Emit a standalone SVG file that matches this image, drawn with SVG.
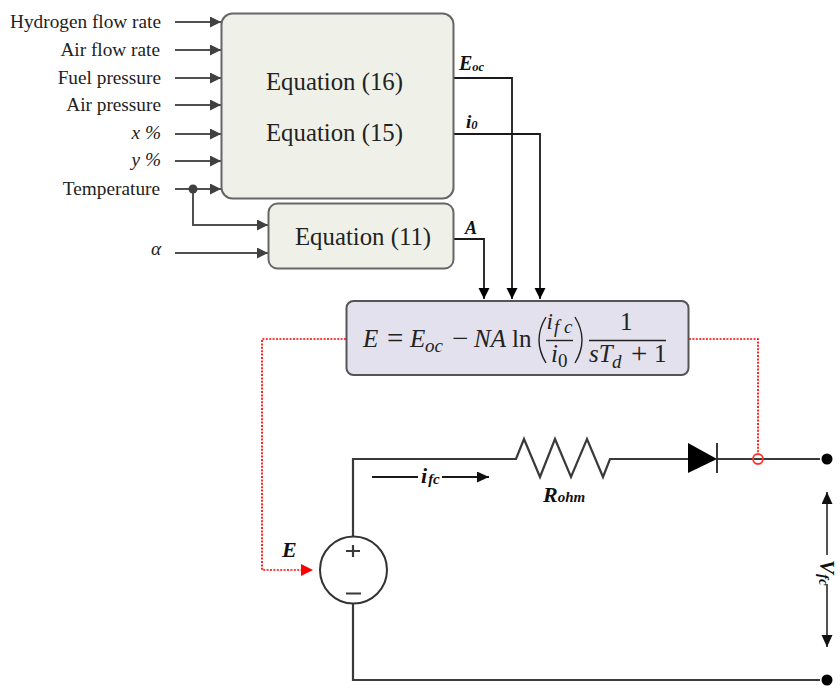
<svg xmlns="http://www.w3.org/2000/svg" width="840" height="695" viewBox="0 0 840 695">
<defs>
<marker id="ag" markerUnits="userSpaceOnUse" markerWidth="13" markerHeight="14" refX="11" refY="5.500" orient="auto"><path d="M0 0L11 5.500L0 11Z" fill="#404040"/></marker>
<marker id="ak" markerUnits="userSpaceOnUse" markerWidth="13" markerHeight="13" refX="11" refY="5.500" orient="auto"><path d="M0 0L11 5.500L0 11Z" fill="#000"/></marker>
<marker id="as" markerUnits="userSpaceOnUse" markerWidth="13" markerHeight="13" refX="12" refY="5.500" orient="auto"><path d="M0 0L12 5.500L0 11Z" fill="#111"/></marker>
</defs>
<style>
text{font-family:"Liberation Serif","Times New Roman",serif;fill:#222}
.l{font-size:19.300px;text-anchor:end}
.i{font-style:italic}
.b{font-weight:bold;font-style:italic;fill:#111}
.eq{font-size:24.800px;text-anchor:middle}
.m{font-size:25px;fill:#222}
.mi{font-size:25px;fill:#222;font-style:italic}
.s{font-size:19px;fill:#222;font-style:italic}
.o{font-size:29px;fill:#222}
.g{fill:none;stroke:#505050;stroke-width:2}
.k{fill:none;stroke:#1a1a1a;stroke-width:1.800}
.w{fill:none;stroke:#3a3a3a;stroke-width:2.200}
.r{fill:none;stroke:#f00;stroke-width:1.700;stroke-dasharray:2 1.400}
.p{fill:none;stroke:#222;stroke-width:1.400}
</style>
<g id="connectors">
<path class="g" marker-end="url(#ag)" d="M175 22H221"/>
<path class="g" marker-end="url(#ag)" d="M175 50H221"/>
<path class="g" marker-end="url(#ag)" d="M175 78H221"/>
<path class="g" marker-end="url(#ag)" d="M175 105H221"/>
<path class="g" marker-end="url(#ag)" d="M175 134H221"/>
<path class="g" marker-end="url(#ag)" d="M175 161H221"/>
<path class="g" marker-end="url(#ag)" d="M175 189H221"/>
<path class="g" marker-end="url(#ag)" d="M193 189V225H268"/>
<path class="g" marker-end="url(#ag)" d="M175 253H268"/>
<circle cx="193" cy="189" r="4.500" fill="#404040"/>
<path class="k" marker-end="url(#ak)" d="M453 78H512V299"/>
<path class="k" marker-end="url(#ak)" d="M453 134H540V299"/>
<path class="k" marker-end="url(#ak)" d="M453 239H484V299"/>
<path class="r" d="M346 339H262V570H302"/>
<path d="M301 564L313 570L301 576Z" fill="#f00"/>
<path class="r" d="M689 339H758V453"/>
<path class="w" d="M353 536V459H516L524 439L540 477L555 439L571 477L587 439L603 477L610 459H688"/>
<path class="w" d="M717 459H820"/>
<path class="w" d="M353 604V680H820"/>
<path class="k" d="M372 477H418"/>
<path class="k" marker-end="url(#as)" d="M442 477H489"/>
<path class="k" style="stroke-width:1.500" marker-end="url(#as)" d="M827 555V492"/>
<path class="k" style="stroke-width:1.500" marker-end="url(#as)" d="M827 584V647"/>
</g>
<g id="node-eq1615"><rect x="221.500" y="13.500" width="232" height="185" rx="11" fill="#eff1e9" stroke="#666" stroke-width="2"/><text class="eq" x="334.500" y="90">Equation (16)</text><text class="eq" x="334.500" y="141">Equation (15)</text></g>
<g id="node-eq11"><rect x="268.500" y="203.500" width="185" height="65" rx="9" fill="#eff1e9" stroke="#666" stroke-width="2"/><text class="eq" x="363" y="245">Equation (11)</text></g>
<g id="node-formula"><rect x="346.500" y="301" width="342" height="74" rx="7" fill="#e3e1ee" stroke="#555" stroke-width="2"/>
<text class="mi" x="363" y="347">E</text><text class="o" x="387" y="348">=</text>
<text class="mi" x="410" y="347">E</text><text class="s" x="425" y="352">oc</text>
<text class="o" x="452" y="348">−</text><text class="mi" x="474" y="347">NA</text><text class="m" x="512" y="347">ln</text>
<path class="p" d="M546 317Q532 340 546 363" stroke-width="1.600"/>
<text class="mi" x="546.500" y="329" style="font-size:23px">i</text><text class="s" x="554" y="333">f c</text>
<path class="p" d="M546 340.500H573"/>
<text class="mi" x="551" y="362">i</text><text class="m" x="558" y="367" style="font-size:19px">0</text>
<path class="p" d="M575 317Q589 340 575 363" stroke-width="1.600"/>
<text class="m" x="620" y="330">1</text>
<path class="p" d="M589 340.500H666"/>
<text class="mi" x="589" y="362">sT</text><text class="s" x="612" y="368">d</text>
<text class="o" x="631" y="363">+</text><text class="m" x="654" y="362">1</text></g>
<g id="labels">
<text class="l" x="161" y="28">Hydrogen flow rate</text>
<text class="l" x="160" y="56">Air flow rate</text>
<text class="l" x="161" y="84">Fuel pressure</text>
<text class="l" x="161" y="111">Air pressure</text>
<text class="l i" x="161" y="139">x %</text>
<text class="l i" x="161" y="166">y %</text>
<text class="l" x="160" y="195">Temperature</text>
<text class="l i" x="161" y="255">α</text>
<text class="b" x="459" y="70" font-size="20">E<tspan font-size="12.500" dy="1">oc</tspan></text>
<text class="b" x="466" y="128" font-size="19">i<tspan font-size="12.500" dy="1">0</tspan></text>
<text class="b" x="465" y="234" font-size="18">A</text>
<text class="b" x="282" y="557" font-size="22">E</text>
<text class="b" x="421" y="483" font-size="22">i<tspan font-size="15" dy="1" dx="1">fc</tspan></text>
<text class="b" x="543" y="502" font-size="22">R<tspan font-size="15">ohm</tspan></text>
<text class="b" transform="translate(820 560) rotate(90)" font-size="21">V<tspan font-size="15" dy="1">fc</tspan></text>
</g>
<g id="source"><circle cx="353.500" cy="570" r="33.500" fill="#fff" stroke="#333" stroke-width="2"/><path class="w" d="M353 545V557M346 551H360M346 593.500H361"/></g>
<g id="diode"><path d="M688 443L717 459L688 473Z" fill="#000"/><path d="M717 443V473" stroke="#222" stroke-width="1.800"/></g>
<circle id="tap" cx="758" cy="459" r="5" fill="none" stroke="#f33" stroke-width="1.800"/>
<circle id="t1" cx="827" cy="459" r="5.500" fill="#000"/>
<circle id="t2" cx="827" cy="680" r="5.500" fill="#000"/>
</svg>
